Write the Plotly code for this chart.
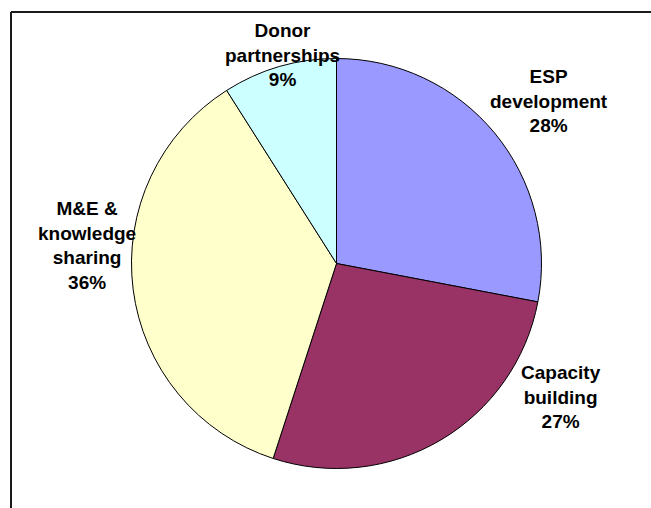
import plotly.graph_objects as go

# Data
categories = ["ESP development", "Capacity building", "M&E & knowledge sharing", "Donor partnerships"]
label_lines = ["ESP<br>development", "Capacity<br>building", "M&E &<br>knowledge<br>sharing", "Donor<br>partnerships"]
values = [28, 27, 36, 9]
colors = ["#9999FF", "#993366", "#FFFFCC", "#CCFFFF"]

W, H = 651, 508
# pie geometry (pixels)
cx, cy, r = 336.5, 263.5, 205

# label centre positions (pixels)
label_pos = [(549, 101), (561, 397), (87, 245), (282, 55)]

fig = go.Figure(go.Pie(
    labels=categories,
    values=values,
    sort=False,
    direction="clockwise",
    rotation=0,
    marker=dict(colors=colors, line=dict(color="black", width=1)),
    textinfo="none",
    hoverinfo="label+percent",
    showlegend=False,
    domain=dict(x=[(cx - r) / W, (cx + r) / W], y=[(H - cy - r) / H, (H - cy + r) / H]),
))

total = sum(values)
for lab, v, (px, py) in zip(label_lines, values, label_pos):
    pct = round(100 * v / total)
    fig.add_annotation(
        x=px / W, y=1 - py / H, xref="paper", yref="paper",
        text=f"<b>{lab}<br>{pct}%</b>", showarrow=False,
        xanchor="center", yanchor="middle", align="center",
        font=dict(family="Liberation Sans, Arial, sans-serif", size=19, color="black"),
    )

# chart frame (left/top visible, rest cropped)
fig.add_shape(type="line", xref="paper", yref="paper",
              x0=11 / W, x1=11 / W, y0=-0.1, y1=1 - 12 / H,
              line=dict(color="#1a1a1a", width=2))
fig.add_shape(type="line", xref="paper", yref="paper",
              x0=11 / W, x1=1.1, y0=1 - 12 / H, y1=1 - 12 / H,
              line=dict(color="#1a1a1a", width=2))

fig.update_layout(
    width=W, height=H,
    margin=dict(l=0, r=0, t=0, b=0),
    paper_bgcolor="white", plot_bgcolor="white",
)

fig.write_html("out.html")
